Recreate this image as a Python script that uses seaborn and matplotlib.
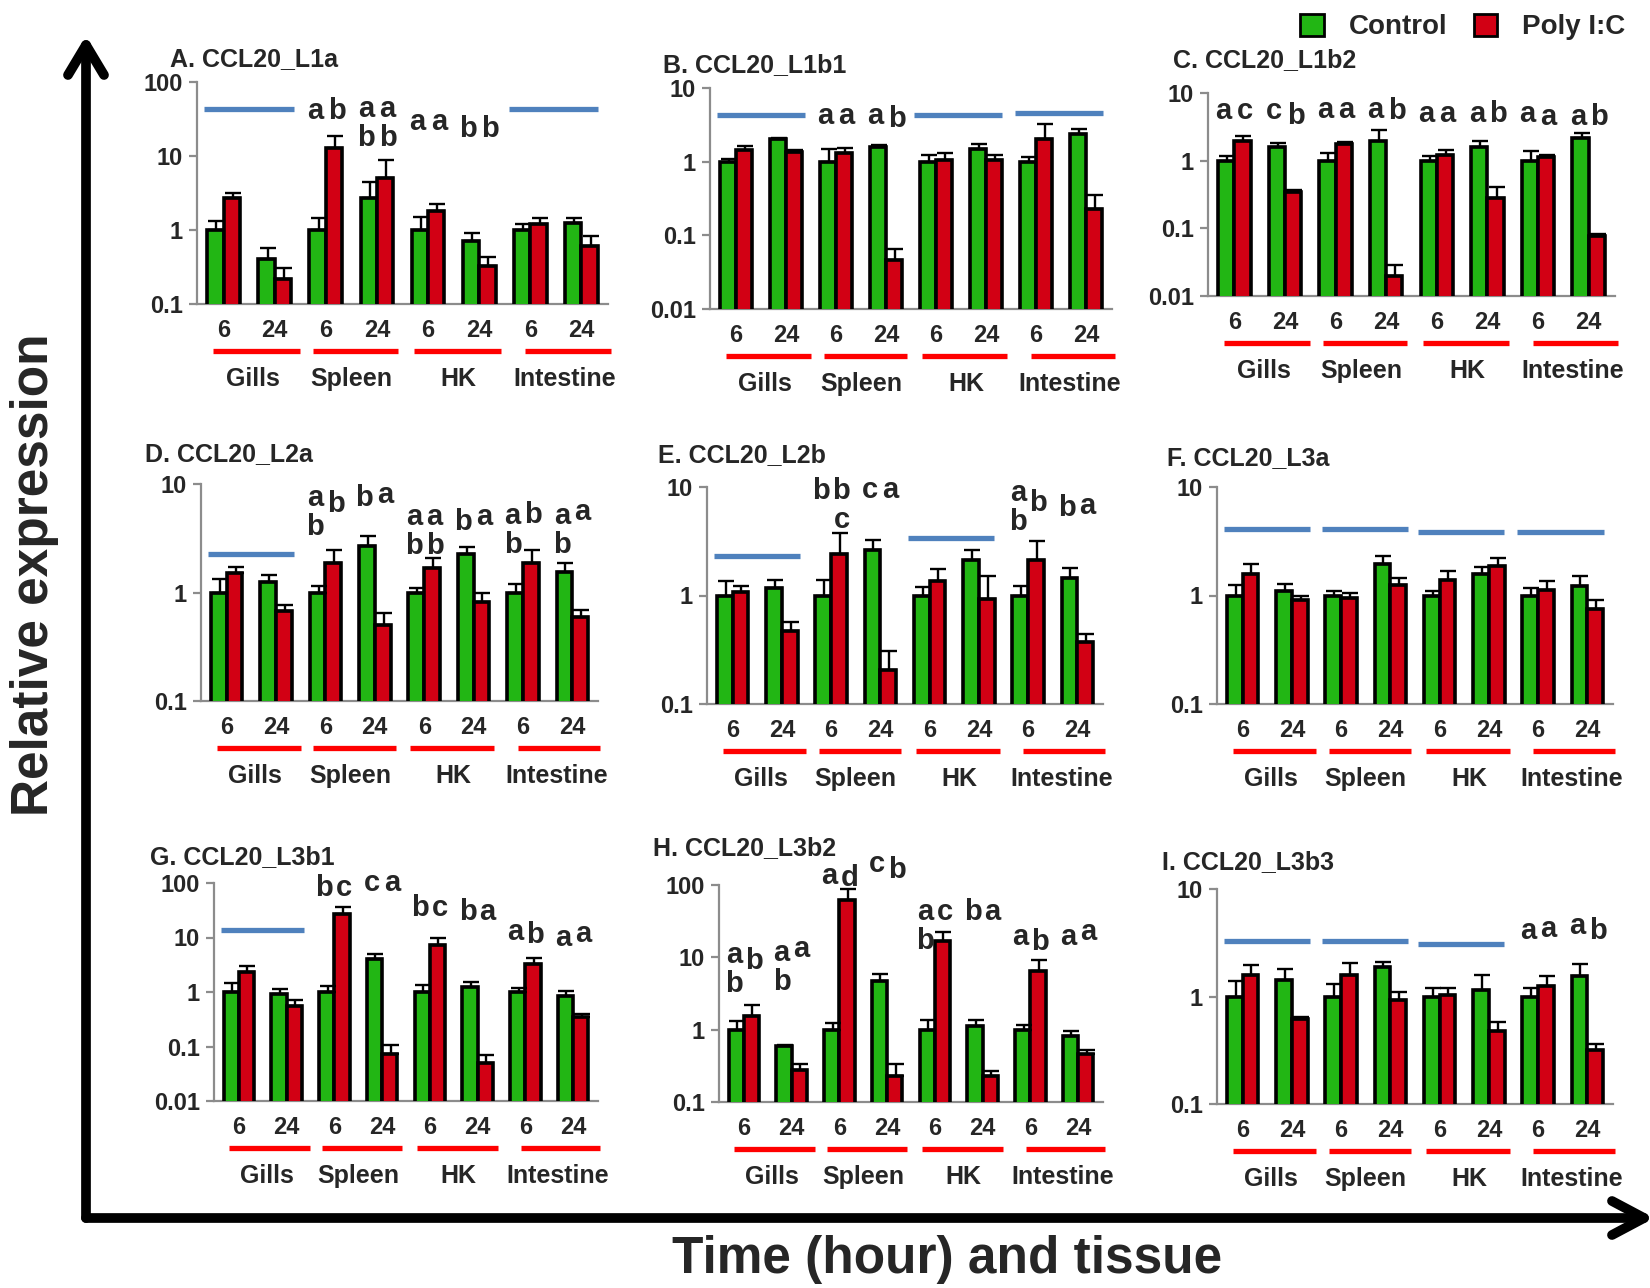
import numpy as np
import pandas as pd
import matplotlib
matplotlib.use("Agg")
import matplotlib.pyplot as plt
import matplotlib.transforms as mtransforms
import seaborn as sns
from matplotlib.lines import Line2D
from matplotlib.patches import Patch

sns.set_theme(style="white")
plt.rcParams["font.family"] = ["Liberation Sans", "DejaVu Sans"]
plt.rcParams["font.weight"] = "bold"

# ---------------- data ----------------
tissues = ["Gills", "Spleen", "HK", "Intestine"]
hours = ["6", "24"]
conditions = ["Control", "Poly I:C"]
groups = [f"{t} {h}" for t in tissues for h in hours]

titles = ["A. CCL20_L1a", "B. CCL20_L1b1", "C. CCL20_L1b2",
          "D. CCL20_L2a", "E. CCL20_L2b", "F. CCL20_L3a",
          "G. CCL20_L3b1", "H. CCL20_L3b2", "I. CCL20_L3b3"]

ctrl_A = [1.0, 0.41, 1.0, 2.7, 1.0, 0.71, 1.0, 1.25]
ctrl_err_A = [0.32, 0.17, 0.44, 1.8, 0.48, 0.21, 0.19, 0.19]
poly_A = [2.7, 0.22, 12.7, 5.0, 1.82, 0.33, 1.19, 0.61]
poly_err_A = [0.5, 0.09, 6.1, 3.8, 0.43, 0.10, 0.25, 0.23]

ctrl_B = [1.0, 2.0, 1.0, 1.6, 1.0, 1.5, 1.0, 2.35]
ctrl_err_B = [0.08, 0.1, 0.5, 0.08, 0.22, 0.22, 0.15, 0.45]
poly_B = [1.42, 1.35, 1.32, 0.046, 1.05, 1.05, 2.05, 0.23]
poly_err_B = [0.22, 0.08, 0.22, 0.02, 0.25, 0.2, 1.15, 0.12]

ctrl_C = [1.0, 1.6, 1.0, 1.95, 1.0, 1.6, 1.0, 2.15]
ctrl_err_C = [0.17, 0.22, 0.3, 0.85, 0.18, 0.35, 0.37, 0.4]
poly_C = [1.95, 0.35, 1.78, 0.02, 1.22, 0.28, 1.15, 0.078]
poly_err_C = [0.35, 0.02, 0.1, 0.009, 0.2, 0.13, 0.08, 0.005]

ctrl_D = [1.0, 1.25, 1.0, 2.7, 1.0, 2.24, 1.0, 1.54]
ctrl_err_D = [0.33, 0.21, 0.14, 0.64, 0.1, 0.4, 0.19, 0.33]
poly_D = [1.51, 0.68, 1.87, 0.5, 1.68, 0.81, 1.87, 0.6]
poly_err_D = [0.19, 0.08, 0.57, 0.15, 0.39, 0.19, 0.57, 0.09]

ctrl_E = [1.0, 1.17, 1.0, 2.63, 1.0, 2.13, 1.0, 1.45]
ctrl_err_E = [0.35, 0.21, 0.39, 0.65, 0.19, 0.47, 0.22, 0.34]
poly_E = [1.07, 0.47, 2.42, 0.206, 1.37, 0.93, 2.13, 0.37]
poly_err_E = [0.15, 0.1, 1.38, 0.1, 0.39, 0.57, 1.04, 0.07]

ctrl_F = [1.0, 1.11, 1.0, 1.96, 1.0, 1.58, 1.0, 1.22]
ctrl_err_F = [0.24, 0.17, 0.1, 0.33, 0.09, 0.24, 0.17, 0.3]
poly_F = [1.58, 0.91, 0.95, 1.26, 1.39, 1.86, 1.13, 0.75]
poly_err_F = [0.38, 0.09, 0.11, 0.18, 0.29, 0.36, 0.23, 0.15]

ctrl_G = [1.0, 0.9, 1.0, 4.05, 1.0, 1.22, 1.0, 0.86]
ctrl_err_G = [0.49, 0.22, 0.31, 0.95, 0.35, 0.33, 0.2, 0.18]
poly_G = [2.3, 0.56, 27, 0.074, 7.3, 0.05, 3.28, 0.35]
poly_err_G = [0.7, 0.15, 10, 0.034, 2.4, 0.021, 0.89, 0.05]

ctrl_H = [1.0, 0.59, 1.0, 4.67, 1.0, 1.12, 1.0, 0.81]
ctrl_err_H = [0.32, 0.03, 0.25, 1.13, 0.37, 0.25, 0.17, 0.15]
poly_H = [1.55, 0.28, 63, 0.23, 16.7, 0.226, 6.4, 0.46]
poly_err_H = [0.62, 0.05, 26, 0.11, 5.8, 0.04, 2.7, 0.07]

ctrl_I = [1.0, 1.43, 1.0, 1.9, 1.0, 1.14, 1.0, 1.55]
ctrl_err_I = [0.38, 0.36, 0.3, 0.21, 0.19, 0.45, 0.21, 0.44]
poly_I = [1.57, 0.62, 1.59, 0.93, 1.04, 0.48, 1.26, 0.315]
poly_err_I = [0.4, 0.03, 0.48, 0.17, 0.15, 0.1, 0.29, 0.045]

ylims = [(0.1, 100), (0.01, 10), (0.01, 10),
         (0.1, 10), (0.1, 10), (0.1, 10),
         (0.01, 100), (0.1, 100), (0.1, 10)]

# significance letters: (pair index, control label, poly label, y control, y poly)
letters_A = [(2, "a", "b", 31.6, 31.6), (3, "a\nb", "a\nb", 34, 34),
             (4, "a", "a", 22.5, 22.5), (5, "b", "b", 18.3, 18.3)]
letters_B = [(2, "a", "a", 3.23, 3.23), (3, "a", "b", 3.23, 2.92)]
letters_C = [(0, "a", "c", 4.08, 4.08), (1, "c", "b", 4.08, 3.44),
             (2, "a", "a", 4.32, 4.32), (3, "a", "b", 4.32, 4.08),
             (4, "a", "a", 3.73, 3.73), (5, "a", "b", 3.73, 3.73),
             (6, "a", "a", 3.73, 3.33), (7, "a", "b", 3.33, 3.33)]
letters_D = [(2, "a\nb", "b", 6.3, 5.5), (3, "b", "a", 6.3, 6.7),
             (4, "a\nb", "a\nb", 4.2, 4.2), (5, "b", "a", 3.8, 4.2),
             (6, "a\nb", "b", 4.3, 4.36), (7, "a\nb", "a", 4.3, 4.7)]
letters_E = [(2, "b", "b\nc", 7.7, 7.7), (3, "c", "a", 7.94, 7.94),
             (6, "a\nb", "b", 7.5, 6.06), (7, "b", "a", 5.46, 5.66)]
letters_F = []
letters_G = [(2, "b", "c", 58.5, 58.5), (3, "c", "a", 70, 70),
             (4, "b", "c", 24.4, 24.4), (5, "b", "a", 21, 21),
             (6, "a", "b", 9.05, 7.87), (7, "a", "a", 7.0, 8.2)]
letters_H = [(0, "a\nb", "b", 8.4, 7.0), (1, "a\nb", "a", 8.9, 10.1),
             (2, "a", "d", 102, 98), (3, "c", "b", 152, 123),
             (4, "a\nb", "c", 33, 33), (5, "b", "a", 33, 33),
             (6, "a", "b", 14.7, 12.8), (7, "a", "a", 14.7, 17.6)]
letters_I = [(6, "a", "a", 3.4, 3.55), (7, "a", "b", 3.81, 3.4)]

# blue "no difference" lines: (tissue index, y level)
blue_A = [(0, 43.6), (3, 43.6)]
blue_B = [(0, 4.3), (2, 4.3), (3, 4.6)]
blue_C = []
blue_D = [(0, 2.27)]
blue_E = [(0, 2.29), (2, 3.38)]
blue_F = [(0, 4.06), (1, 4.06), (2, 3.84), (3, 3.84)]
blue_G = [(0, 13.5)]
blue_H = []
blue_I = [(0, 3.28), (1, 3.28), (2, 3.08)]

ctrl_all = [ctrl_A, ctrl_B, ctrl_C, ctrl_D, ctrl_E, ctrl_F, ctrl_G, ctrl_H, ctrl_I]
ctrl_err_all = [ctrl_err_A, ctrl_err_B, ctrl_err_C, ctrl_err_D, ctrl_err_E,
                ctrl_err_F, ctrl_err_G, ctrl_err_H, ctrl_err_I]
poly_all = [poly_A, poly_B, poly_C, poly_D, poly_E, poly_F, poly_G, poly_H, poly_I]
poly_err_all = [poly_err_A, poly_err_B, poly_err_C, poly_err_D, poly_err_E,
                poly_err_F, poly_err_G, poly_err_H, poly_err_I]
letters_all = [letters_A, letters_B, letters_C, letters_D, letters_E,
               letters_F, letters_G, letters_H, letters_I]
blue_all = [blue_A, blue_B, blue_C, blue_D, blue_E, blue_F, blue_G, blue_H, blue_I]

# ---------------- layout (pixels) ----------------
W, H = 1650, 1288
# left, right, top, bottom of each plot area
boxes = [(197, 608, 82, 304), (710, 1112, 88, 309), (1208, 1615, 93, 296),
         (201, 598, 484, 701), (707, 1103, 487, 704), (1217, 1613, 487, 704),
         (214, 598, 883, 1101), (719, 1103, 885, 1102), (1217, 1613, 889, 1104)]
title_pos = [(170, 66), (663, 72), (1173, 67),
             (145, 461), (658, 462), (1167, 465),
             (150, 864), (653, 855), (1162, 869)]

GREEN = "#22B614"
RED = "#D20014"
BLUE = "#4F81BD"
AXGRAY = "#8C8C8C"

red_spans = [(-0.2, 1.5), (1.75, 3.42), (3.72, 5.42), (5.9, 7.57)]
tissue_x = [0.58, 2.5, 4.6, 6.68]
blue_start = [-0.38, 1.61, 3.56, 5.58]
blue_len = 1.75
LET_DX = 0.21
ROW_PX = 29

fig = plt.figure(figsize=(W / 100, H / 100), dpi=100)

for k in range(9):
    l, r, t, b = boxes[k]
    ax = fig.add_axes([l / W, 1 - b / H, (r - l) / W, (b - t) / H])
    hpx = b - t
    df = pd.DataFrame({
        "group": groups * 2,
        "condition": [conditions[0]] * 8 + [conditions[1]] * 8,
        "value": list(ctrl_all[k]) + list(poly_all[k]),
    })
    sns.barplot(data=df, x="group", y="value", hue="condition", order=groups,
                hue_order=conditions, palette=[GREEN, RED], width=0.64, gap=0,
                edgecolor="black", linewidth=2.6, errorbar=None, legend=False,
                saturation=1, ax=ax, zorder=2)
    ax.set_yscale("log")
    ax.set_ylim(*ylims[k])
    ax.set_xlim(-0.52, 7.52)

    # error bars (upper only) from bar patches
    bars = sorted(ax.patches, key=lambda p: p.get_x())
    xs = np.array([p.get_x() + p.get_width() / 2 for p in bars])
    hs = np.array([p.get_height() for p in bars])
    errs = []
    for p in bars:
        cx = p.get_x() + p.get_width() / 2
        gi = int(round(cx))
        ci = 0 if cx < gi else 1
        errs.append((ctrl_err_all[k] if ci == 0 else poly_err_all[k])[gi])
    errs = np.array(errs)
    ax.errorbar(xs + 0.02, hs, yerr=[np.zeros_like(errs), errs], fmt="none",
                ecolor="black", elinewidth=1.7, capsize=6, capthick=1.7, zorder=3)

    # spines & ticks
    for s in ["top", "right"]:
        ax.spines[s].set_visible(False)
    for s in ["left", "bottom"]:
        ax.spines[s].set_color(AXGRAY)
        ax.spines[s].set_linewidth(1.6)
        ax.spines[s].set_zorder(1)
    lo, hi = ylims[k]
    dec = [10.0 ** e for e in range(int(round(np.log10(lo))), int(round(np.log10(hi))) + 1)]
    ax.yaxis.set_major_locator(matplotlib.ticker.FixedLocator(dec))
    ax.yaxis.set_minor_locator(matplotlib.ticker.NullLocator())
    ax.set_yticklabels([f"{d:g}" for d in dec], fontsize=17, fontweight="bold")
    ax.tick_params(axis="y", direction="out", length=6, width=1.6, color=AXGRAY,
                   pad=4, left=True)
    ax.set_xticks(range(8))
    ax.set_xticklabels(hours * 4, fontsize=17, fontweight="bold")
    ax.tick_params(axis="x", length=0, pad=11)
    ax.set_xlabel("")
    ax.set_ylabel("")
    ax.grid(False)

    xtr = ax.get_xaxis_transform()
    for ti, (x0, x1) in enumerate(red_spans):
        ax.plot([x0, x1], [-47 / hpx, -47 / hpx], transform=xtr, color="#FF0000",
                lw=3.8, solid_capstyle="butt", clip_on=False)
        ax.text(tissue_x[ti], -75 / hpx, tissues[ti], transform=xtr, ha="center",
                va="center", fontsize=18, fontweight="bold", clip_on=False)

    for ti, yv in blue_all[k]:
        x0 = blue_start[ti]
        ax.plot([x0, x0 + blue_len], [yv, yv], color=BLUE, lw=3.8,
                solid_capstyle="butt", clip_on=False, zorder=4)

    for gi, lc, lp, yc, yp in letters_all[k]:
        for dx, lab, yy in [(-LET_DX, lc, yc), (LET_DX, lp, yp)]:
            for ri, row in enumerate(lab.split("\n")):
                tr = mtransforms.offset_copy(ax.transData, fig=fig, x=0,
                                             y=-ROW_PX * ri, units="dots")
                ax.text(gi + dx, yy, row, transform=tr, ha="center",
                        va="baseline", fontsize=21, fontweight="bold",
                        clip_on=False)

    tx, ty = title_pos[k]
    fig.text(tx / W, 1 - ty / H, titles[k], ha="left", va="baseline",
             fontsize=18, fontweight="bold")

# legend
handles = [Patch(facecolor=GREEN, edgecolor="black", linewidth=2),
           Patch(facecolor=RED, edgecolor="black", linewidth=2)]
fig.legend(handles, conditions, loc="center left", ncol=2, frameon=False,
           bbox_to_anchor=(1300 / W, 1 - 27 / H),
           handlelength=0.85, handleheight=0.85, handletextpad=0.9,
           columnspacing=0.95, borderaxespad=0, borderpad=0,
           prop={"weight": "bold", "size": 20})

# big axis arrows
def fline(xs_, ys_, lw=7):
    fig.add_artist(Line2D([x / W for x in xs_], [1 - y / H for y in ys_],
                          transform=fig.transFigure, color="black", lw=lw,
                          solid_capstyle="round", solid_joinstyle="round"))

AX0, AY0 = 86, 1218
fline([AX0, AX0], [AY0, 45])
fline([AX0 - 18, AX0, AX0 + 18], [75, 45, 75])
fline([AX0, 1644], [AY0, AY0])
fline([1612, 1644, 1612], [AY0 - 17, AY0, AY0 + 17])

fig.text(35 / W, 1 - 575 / H, "Relative expression", rotation=90, ha="center",
         va="center", fontsize=37, fontweight="bold")
fig.text(947 / W, 1 - 1260 / H, "Time (hour) and tissue", ha="center",
         va="center", fontsize=37, fontweight="bold")

fig.savefig("out.png", dpi=100)
